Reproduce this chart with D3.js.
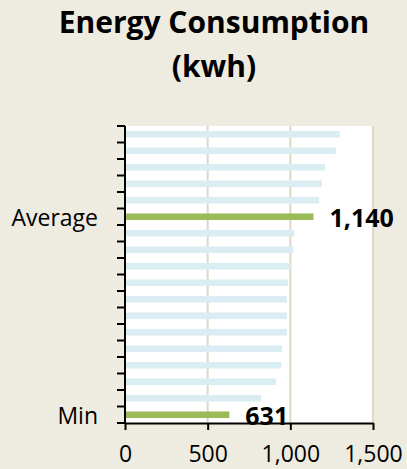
<!DOCTYPE html>
<html>
<head>
<meta charset="utf-8">
<script src="https://cdn.jsdelivr.net/npm/d3@7"></script>
<style>
  body { margin: 0; background: #eeebe0; }
  svg { display: block; font-family: "Open Sans", Lato, sans-serif; }
</style>
</head>
<body>
<script>
// rows top to bottom
const labels = ['', '', '', '', '', 'Average', '', '', '', '', '', '', '', '', '', '', '', 'Min']
const values = [1299, 1275, 1209, 1191, 1174, 1140, 1024, 1018, 1000, 986, 980, 980, 980, 950, 946, 914, 824, 631]
const highlight = ['Average', 'Min']
const xTicks = [0, 500, 1000, 1500]

const w = 407
const h = 469
const m = { top: 126, right: 34, bottom: 46, left: 125 }

const svg = d3.select('body')
  .append('svg')
  .attr('width', w)
  .attr('height', h)

svg.append('rect')
  .attr('width', w)
  .attr('height', h)
  .attr('fill', '#eeebe0')

const title = svg.append('text')
  .attr('text-anchor', 'middle')
  .attr('font-weight', 'bold')
  .attr('font-size', 30)
  .attr('fill', '#000')
title.append('tspan').attr('x', 214).attr('y', 33).text('Energy Consumption')
title.append('tspan').attr('x', 214).attr('y', 77).text('(kwh)')

const xScale = d3.scaleLinear()
  .domain([0, 1500])
  .range([m.left, w - m.right])

const yScale = d3.scaleBand()
  .domain(d3.range(values.length))
  .range([m.top, h - m.bottom])
  .paddingInner(0.6)
  .paddingOuter(0.3)

// plot area
svg.append('rect')
  .attr('x', m.left)
  .attr('y', m.top)
  .attr('width', xScale(1500) - m.left)
  .attr('height', h - m.bottom - m.top)
  .attr('fill', '#fff')

// gridlines
svg.selectAll('.grid')
  .data(xTicks.slice(1))
  .enter()
  .append('line')
  .attr('x1', d => xScale(d))
  .attr('x2', d => xScale(d))
  .attr('y1', m.top)
  .attr('y2', h - m.bottom)
  .attr('stroke', '#ddd8c4')
  .attr('stroke-width', 2)

// bars
svg.selectAll('.bar')
  .data(values)
  .enter()
  .append('rect')
  .attr('x', xScale(0))
  .attr('y', (d, i) => yScale(i))
  .attr('width', d => xScale(d) - xScale(0))
  .attr('height', yScale.bandwidth())
  .attr('fill', (d, i) => highlight.includes(labels[i]) ? '#9bbb59' : '#daedf3')

// value labels for highlighted rows
svg.selectAll('.val')
  .data(values.map((v, i) => ({ v, i })).filter(d => highlight.includes(labels[d.i])))
  .enter()
  .append('text')
  .attr('x', d => xScale(d.v) + 16)
  .attr('y', d => yScale(d.i) + yScale.bandwidth() / 2)
  .attr('dy', '0.42em')
  .attr('font-weight', 'bold')
  .attr('font-size', 25)
  .text(d => d3.format(',')(d.v))

// y axis: line + ticks at category boundaries
const bounds = d3.range(values.length + 1).map(i => m.top + i * (h - m.bottom - m.top) / values.length)
svg.selectAll('.ytick')
  .data(bounds)
  .enter()
  .append('line')
  .attr('x1', m.left - 8)
  .attr('x2', m.left)
  .attr('y1', d => d)
  .attr('y2', d => d)
  .attr('stroke', '#000')
  .attr('stroke-width', 2)

svg.append('line')
  .attr('x1', m.left)
  .attr('x2', m.left)
  .attr('y1', m.top)
  .attr('y2', h - m.bottom)
  .attr('stroke', '#000')
  .attr('stroke-width', 2)

svg.selectAll('.ylab')
  .data(labels.map((l, i) => ({ l, i })).filter(d => d.l))
  .enter()
  .append('text')
  .attr('x', 98)
  .attr('y', d => yScale(d.i) + yScale.bandwidth() / 2)
  .attr('dy', '0.4em')
  .attr('text-anchor', 'end')
  .attr('font-size', 23)
  .text(d => d.l)

// x axis
const xAxis = d3.axisBottom(xScale)
  .tickValues(xTicks)
  .tickFormat(d3.format(','))
  .tickSize(7)
  .tickSizeOuter(0)
  .tickPadding(16)

const gx = svg.append('g')
  .attr('transform', 'translate(0,' + (h - m.bottom) + ')')
  .call(xAxis)
gx.select('.domain').attr('stroke', '#000').attr('stroke-width', 2)
gx.selectAll('.tick line').attr('stroke', '#000').attr('stroke-width', 2)
gx.selectAll('.tick text')
  .attr('font-size', 23)
  .attr('font-family', '"Open Sans", Lato, sans-serif')
  .attr('fill', '#000')
</script>
</body>
</html>
